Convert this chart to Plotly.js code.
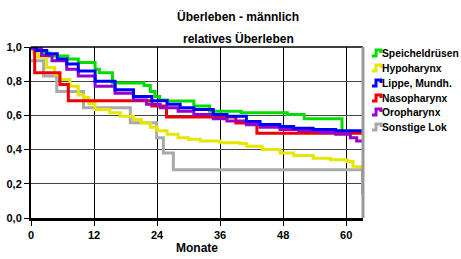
<!DOCTYPE html>
<html><head><meta charset="utf-8">
<script src="https://cdn.plot.ly/plotly-3.0.1.min.js"></script>
<style>html,body{margin:0;padding:0;background:#fff}#c{width:461px;height:259px}</style>
</head><body><div id="c"></div>
<script>
const seriesNames = ["Speicheldrüsen","Hypoharynx","Lippe, Mundh.","Nasopharynx","Oropharynx","Sonstige Lok"];
const seriesColors = ["#00dd00","#e6e600","#0000ff","#ee0000","#9900cc","#aaaaaa"];

const greenM = [0,1,2,3.5,7,9,12.2,13,15.5,21.5,22.7,23.6,24.5,26,31,34,40,48.8,52,59.2,63.2];
const greenV = [1,0.98,0.965,0.947,0.93,0.91,0.87,0.85,0.79,0.775,0.74,0.71,0.69,0.684,0.655,0.625,0.615,0.605,0.58,0.5,0.5];

const yellowM = [0,0.5,1.4,3,4.5,5.5,7.4,9,10,11,12.2,15,17,19.5,21,22.7,24,25.9,28,30,32.2,36,39.8,41,44,47.4,50,53.7,57,60.2,61.3,63.2];
const yellowV = [1,0.97,0.94,0.88,0.84,0.81,0.77,0.72,0.705,0.67,0.635,0.615,0.595,0.576,0.555,0.53,0.51,0.49,0.47,0.46,0.45,0.44,0.435,0.42,0.4,0.38,0.365,0.35,0.34,0.33,0.3,0.3];

const blueM = [0,1,3,5,6.8,9,12.2,16,19.5,23,25.9,28.4,31,34.7,37.3,41,43.6,47.4,50,53.7,58,63.2];
const blueV = [1,0.98,0.96,0.93,0.9,0.86,0.8,0.75,0.71,0.685,0.665,0.645,0.635,0.605,0.595,0.565,0.547,0.535,0.525,0.518,0.51,0.505];

const redM = [0,0.7,5.5,7.1,23,25.8,39,43,63.2];
const redV = [1,0.85,0.78,0.685,0.655,0.59,0.555,0.495,0.495];

const purpleM = [0,2,4,6.8,9,12.2,16,19.5,22,24.6,28,31,34.7,37.3,41,43.6,47.4,51,55,58,60.8,62,63.2];
const purpleV = [0.99,0.95,0.92,0.87,0.83,0.77,0.73,0.69,0.665,0.645,0.625,0.605,0.58,0.567,0.545,0.53,0.518,0.51,0.5,0.49,0.47,0.45,0.45];

const grayM = [0,2.4,4.9,10,18.9,23.9,25.2,27.1,63.1];
const grayV = [0.92,0.83,0.74,0.645,0.557,0.47,0.38,0.282,0.14];

const xTicks = [0,12,24,36,48,60];
const yTicks = [0,0.2,0.4,0.6,0.8,1.0];

const allM = [greenM,yellowM,blueM,redM,purpleM,grayM];
const allV = [greenV,yellowV,blueV,redV,purpleV,grayV];
const drawOrder = [5,1,0,3,4,2];

const traces = drawOrder.map(i => ({
  x: allM[i], y: allV[i], type:'scatter', mode:'lines', name: seriesNames[i],
  line:{color: seriesColors[i], width:3, shape:'hv'}, showlegend:false, hoverinfo:'skip'
}));

const L=31, R=363, T=47, B=218;
const W=R-L, H=B-T;
const px = x => (x-L)/W, py = y => (B-y)/H;

const shapes = [
  {type:'line', xref:'paper', yref:'paper', x0:0, x1:1, y0:1, y1:1, line:{color:'#000', width:1.5}},
  {type:'line', xref:'paper', yref:'paper', x0:1, x1:1, y0:0, y1:1, line:{color:'#999', width:3}}
];
const annotations = [
  {text:'<b>Überleben - männlich</b>', xref:'paper', yref:'paper', x:px(238), y:py(17), showarrow:false, xanchor:'center', yanchor:'middle', font:{size:12, color:'#000'}},
  {text:'<b>relatives Überleben</b>', xref:'paper', yref:'paper', x:px(238), y:py(38), showarrow:false, xanchor:'center', yanchor:'middle', font:{size:12, color:'#000'}}
];
const legendY = [53,68,83,98,112,127];
seriesNames.forEach((n,i) => {
  const c = legendY[i];
  annotations.push({text:'<b>'+n+'</b>', xref:'paper', yref:'paper', x:px(382), y:py(c), showarrow:false, xanchor:'left', yanchor:'middle', xshift:-2, font:{size:10.3, color:'#000'}});
  shapes.push({type:'path', xref:'paper', yref:'paper',
    path:`M ${px(372)} ${py(c+3)} L ${px(376)} ${py(c+3)} L ${px(376)} ${py(c-3)} L ${px(381)} ${py(c-3)} L ${px(381)} ${py(c)}`,
    line:{color:seriesColors[i], width:3}});
});

const layout = {
  width:461, height:259, margin:{l:L, r:461-R, t:T, b:259-B, pad:0},
  paper_bgcolor:'#fff', plot_bgcolor:'#fff', separators:',.',
  font:{family:'Liberation Sans, Arial, sans-serif', color:'#000'},
  showlegend:false,
  xaxis:{range:[0,63.2], tickvals:xTicks, ticktext:xTicks.map(v=>'<b>'+v+'</b>'), ticks:'outside', ticklen:5, tickcolor:'#000',
    showgrid:true, gridcolor:'#000', gridwidth:1, zeroline:false, showline:true, linecolor:'#000', linewidth:3,
    tickfont:{size:11}, title:{text:'<b>Monate</b>', font:{size:12}, standoff:4}, fixedrange:true},
  yaxis:{range:[0,1.0], tickvals:yTicks, ticktext:yTicks.map(v=>'<b>'+v.toFixed(1).replace('.',',')+'</b>'), ticks:'outside', ticklen:5, tickcolor:'#000',
    showgrid:true, gridcolor:'#444', gridwidth:1, zeroline:false, showline:true, linecolor:'#000', linewidth:2,
    tickfont:{size:11}, fixedrange:true},
  shapes, annotations
};
Plotly.newPlot('c', traces, layout, {staticPlot:true, displayModeBar:false});
</script></body></html>
